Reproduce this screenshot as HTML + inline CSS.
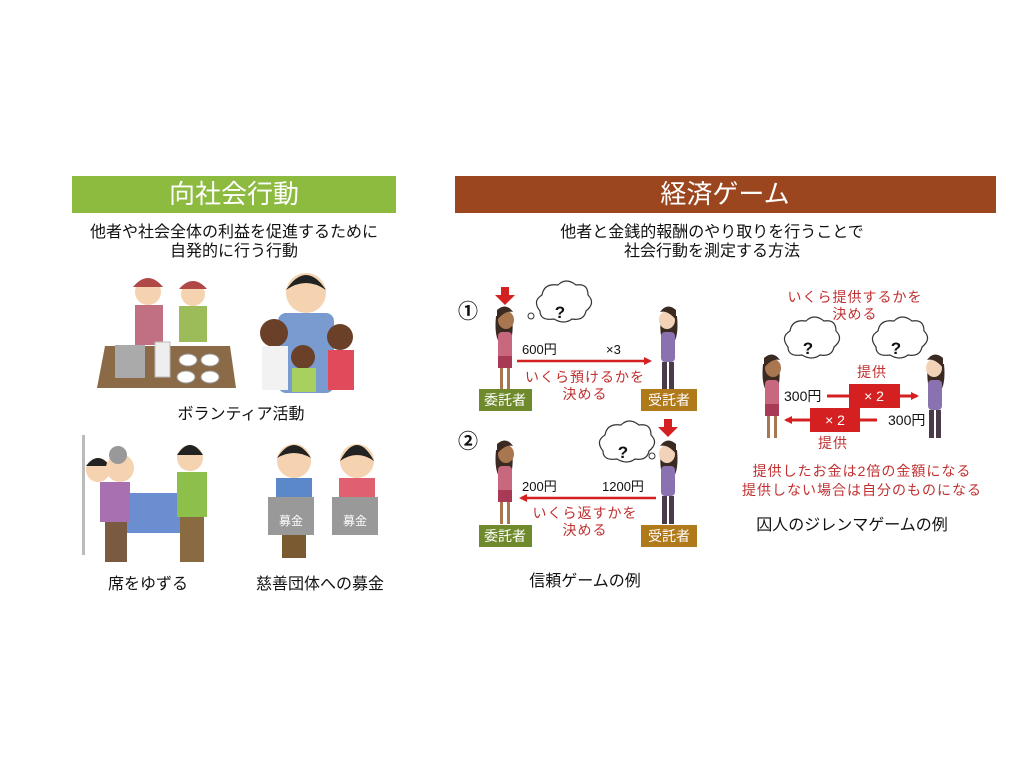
<!DOCTYPE html>
<html><head><meta charset="utf-8"><style>
body{margin:0;background:#fff;}
svg{display:block;font-family:"Liberation Sans","Noto Sans CJK JP",sans-serif;}
</style></head><body>
<svg width="1024" height="768" viewBox="0 0 1024 768" xmlns="http://www.w3.org/2000/svg">
<defs>
<marker id="ah" markerWidth="8" markerHeight="8" refX="6" refY="4" orient="auto" markerUnits="userSpaceOnUse"><path d="M0,0 L8,4 L0,8 z" fill="#d42020"/></marker>
<g id="wp">
<path d="M-9,-62 q-2,20 4,28 l10,0 q4,-12 2,-28z" fill="#3a2a22"/>
<ellipse cx="1" cy="-58" rx="8" ry="9" fill="#a8764f"/>
<path d="M-8,-68 q9,-8 16,2 q-8,-2 -16,8z" fill="#3a2a22"/>
<rect x="-7" y="-46" width="14" height="34" rx="4" fill="#c8687e"/>
<rect x="-7" y="-22" width="14" height="12" fill="#a83a55"/>
<rect x="-5" y="-10" width="3" height="22" fill="#a8764f"/><rect x="2" y="-10" width="3" height="22" fill="#a8764f"/>
</g>
<g id="wv">
<path d="M9,-62 q2,20 -4,28 l-10,0 q-4,-12 -2,-28z" fill="#3a2a22"/>
<ellipse cx="-1" cy="-58" rx="8" ry="9" fill="#f2d3b8"/>
<path d="M8,-68 q-9,-8 -16,2 q8,-2 16,8z" fill="#3a2a22"/>
<rect x="-7" y="-46" width="14" height="30" rx="4" fill="#8a72b0"/>
<rect x="-6" y="-16" width="5" height="28" fill="#4a3a4a"/><rect x="1" y="-16" width="5" height="28" fill="#4a3a4a"/>
</g>
<g id="cloud">
<path d="M-20,5 q-8,-10 2,-16 q2,-12 16,-10 q8,-8 18,0 q12,-2 12,10 q8,8 -2,16 q-2,10 -14,8 q-8,6 -18,0 q-14,2 -14,-8z" fill="#fff" stroke="#333" stroke-width="1.2"/>
</g>
</defs>

<rect x="72" y="176" width="324" height="37" fill="#8cbb3f"/>
<text x="234" y="203" font-size="26" fill="#fff" text-anchor="middle">向社会行動</text>
<rect x="455" y="176" width="541" height="37" fill="#9c4620"/>
<text x="725" y="203" font-size="26" fill="#fff" text-anchor="middle">経済ゲーム</text>

<g font-size="16" fill="#111" text-anchor="middle">
<text x="234" y="237">他者や社会全体の利益を促進するために</text>
<text x="234" y="256">自発的に行う行動</text>
<text x="241" y="419">ボランティア活動</text>
<text x="148" y="589">席をゆずる</text>
<text x="320" y="589">慈善団体への募金</text>
<text x="712" y="237">他者と金銭的報酬のやり取りを行うことで</text>
<text x="712" y="256">社会行動を測定する方法</text>
<text x="585" y="586">信頼ゲームの例</text>
<text x="852" y="530">囚人のジレンマゲームの例</text>
</g>

<polygon points="105,346 230,346 236,388 97,388" fill="#8b6a47"/>
<rect x="115" y="345" width="30" height="33" fill="#aaa"/>
<circle cx="148" cy="292" r="13" fill="#f5d2b0"/><path d="M133,287 q15,-18 30,0z" fill="#b04848"/>
<rect x="135" y="305" width="28" height="40" fill="#c07080"/>
<circle cx="193" cy="294" r="12" fill="#f5d2b0"/><path d="M179,289 q14,-16 28,0z" fill="#b04848"/>
<rect x="179" y="306" width="28" height="36" fill="#9cbc5a"/>
<rect x="155" y="342" width="15" height="35" fill="#eee" stroke="#bbb"/>
<ellipse cx="188" cy="360" rx="9" ry="6" fill="#fff" stroke="#999"/><ellipse cx="210" cy="360" rx="9" ry="6" fill="#fff" stroke="#999"/>
<ellipse cx="186" cy="377" rx="9" ry="6" fill="#fff" stroke="#999"/><ellipse cx="210" cy="377" rx="9" ry="6" fill="#fff" stroke="#999"/>
<rect x="278" y="313" width="56" height="80" rx="8" fill="#7a9bd0"/>
<circle cx="306" cy="293" r="20" fill="#f5d2b0"/><path d="M286,290 q20,-30 40,0 q-20,-14 -40,0z" fill="#222"/>
<circle cx="274" cy="333" r="14" fill="#6a4028"/><rect x="262" y="346" width="26" height="44" fill="#f2f2f2"/>
<circle cx="340" cy="337" r="13" fill="#6a4028"/><rect x="328" y="350" width="26" height="40" fill="#e04a5a"/>
<circle cx="303" cy="357" r="12" fill="#6a4028"/><rect x="292" y="368" width="24" height="24" fill="#a8d060"/>
<rect x="82" y="435" width="3" height="120" fill="#bbb"/>
<rect x="120" y="493" width="75" height="40" fill="#6a8ed0"/>
<circle cx="98" cy="470" r="12" fill="#f5d2b0"/><path d="M86,466 q12,-16 24,0z" fill="#222"/>
<circle cx="120" cy="468" r="14" fill="#f5d2b0"/><circle cx="118" cy="455" r="9" fill="#999"/>
<rect x="100" y="482" width="30" height="40" fill="#a870b0"/><rect x="105" y="522" width="22" height="40" fill="#7a5a40"/>
<circle cx="190" cy="458" r="13" fill="#f5d2b0"/><path d="M177,455 q13,-20 26,0z" fill="#222"/>
<rect x="177" y="472" width="30" height="45" fill="#8cc04a"/><rect x="180" y="517" width="24" height="45" fill="#8a6a40"/>
<circle cx="294" cy="461" r="17" fill="#f5d2b0"/><path d="M277,458 q17,-26 34,0 q-17,-10 -34,0z" fill="#222"/>
<rect x="276" y="478" width="36" height="40" fill="#5a88c8"/><rect x="282" y="518" width="24" height="40" fill="#7a5a30"/>
<circle cx="357" cy="461" r="17" fill="#f5d2b0"/><path d="M340,461 q17,-32 34,0 q-17,-12 -34,0z" fill="#222"/>
<rect x="339" y="478" width="36" height="30" fill="#e06070"/><rect x="339" y="508" width="36" height="24" fill="#80b8e0"/>
<rect x="268" y="497" width="46" height="38" fill="#999"/><rect x="332" y="497" width="46" height="38" fill="#999"/>
<text x="291" y="525" font-size="12" fill="#fff" text-anchor="middle">募金</text>
<text x="355" y="525" font-size="12" fill="#fff" text-anchor="middle">募金</text>

<g font-size="20" font-weight="bold" fill="#111"><text x="458" y="318">①</text><text x="458" y="448">②</text></g>
<path d="M501,287 h8 v8 h6 l-10,10 l-10,-10 h6z" fill="#d42020"/>
<path d="M664,419 h8 v8 h6 l-10,10 l-10,-10 h6z" fill="#d42020"/>
<use href="#wp" x="505" y="378"/><use href="#wv" x="668" y="378"/>
<use href="#wp" x="505" y="512"/><use href="#wv" x="668" y="512"/>
<use href="#cloud" x="560" y="306"/><circle cx="531" cy="316" r="3" fill="#fff" stroke="#333"/>
<text x="560" y="318" font-size="17" font-weight="bold" text-anchor="middle" fill="#111">?</text>
<use href="#cloud" x="623" y="446"/><circle cx="652" cy="456" r="3" fill="#fff" stroke="#333"/>
<text x="623" y="458" font-size="17" font-weight="bold" text-anchor="middle" fill="#111">?</text>
<g font-size="13" fill="#111">
<text x="522" y="354">600円</text><text x="606" y="354">×3</text>
<text x="522" y="491">200円</text><text x="602" y="491">1200円</text>
</g>
<line x1="517" y1="361" x2="650" y2="361" stroke="#d42020" stroke-width="2.5" marker-end="url(#ah)"/>
<line x1="656" y1="498" x2="521" y2="498" stroke="#d42020" stroke-width="2.5" marker-end="url(#ah)"/>
<g font-size="14" fill="#c03030" text-anchor="middle" letter-spacing="1">
<text x="585" y="382">いくら預けるかを</text><text x="585" y="399">決める</text>
<text x="585" y="518">いくら返すかを</text><text x="585" y="535">決める</text>
</g>
<g font-size="14" fill="#fff" text-anchor="middle">
<rect x="479" y="389" width="53" height="22" fill="#6e8a2c"/><text x="505" y="405">委託者</text>
<rect x="641" y="389" width="56" height="22" fill="#b0791a"/><text x="669" y="405">受託者</text>
<rect x="479" y="525" width="53" height="22" fill="#6e8a2c"/><text x="505" y="541">委託者</text>
<rect x="641" y="525" width="56" height="22" fill="#b0791a"/><text x="669" y="541">受託者</text>
</g>

<g font-size="14" fill="#c03030" text-anchor="middle" letter-spacing="1">
<text x="855" y="302">いくら提供するかを</text><text x="855" y="319">決める</text>
<text x="872" y="377">提供</text><text x="833" y="448">提供</text>
<text x="862" y="476">提供したお金は2倍の金額になる</text>
<text x="862" y="495">提供しない場合は自分のものになる</text>
</g>
<use href="#cloud" x="808" y="342"/><text x="808" y="354" font-size="17" font-weight="bold" text-anchor="middle" fill="#111">?</text>
<use href="#cloud" x="896" y="342"/><text x="896" y="354" font-size="17" font-weight="bold" text-anchor="middle" fill="#111">?</text>
<use href="#wp" x="772" y="426"/><use href="#wv" x="935" y="426"/>
<line x1="827" y1="396" x2="917" y2="396" stroke="#d42020" stroke-width="3" marker-end="url(#ah)"/>
<line x1="877" y1="420" x2="786" y2="420" stroke="#d42020" stroke-width="3" marker-end="url(#ah)"/>
<rect x="849" y="384" width="51" height="24" fill="#d42020"/>
<rect x="810" y="408" width="50" height="24" fill="#d42020"/>
<g font-size="14" fill="#fff" text-anchor="middle"><text x="874" y="401">× 2</text><text x="835" y="425">× 2</text></g>
<g font-size="14" fill="#111"><text x="784" y="401">300円</text><text x="888" y="425">300円</text></g>
</svg>
</body></html>
